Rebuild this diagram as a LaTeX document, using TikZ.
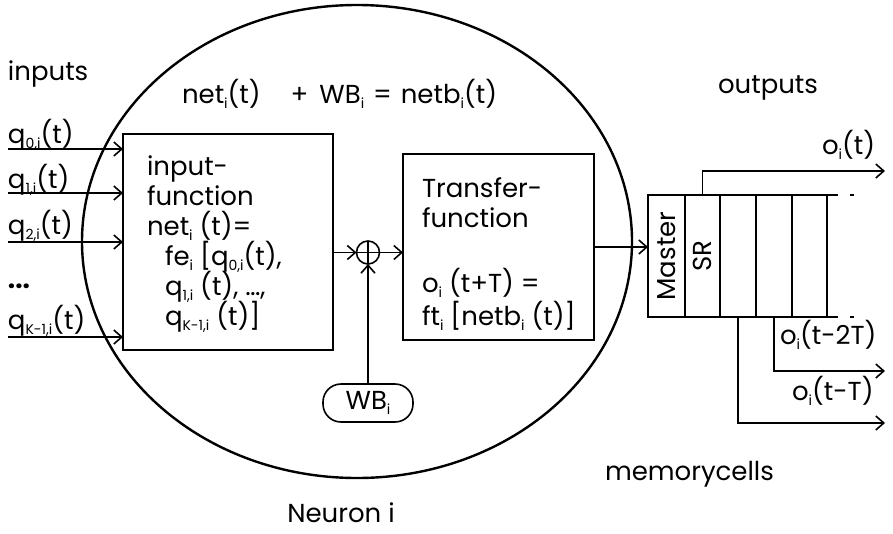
\documentclass[tikz,border=0pt]{standalone}
\usepackage{fontspec}
\setmainfont{Poppins}
\usetikzlibrary{arrows.meta,shapes.geometric}
\newcommand\lo[1]{\raisebox{-0.22em}{\fontsize{14pt}{14pt}\selectfont #1}}
\begin{document}
\begin{tikzpicture}[x=1pt,y=-1pt,
  every node/.style={font=\fontsize{26pt}{30pt}\selectfont, inner sep=0pt, outer sep=0pt},
  txt/.style={anchor=base west},
  box/.style={draw, line width=1.8pt, inner sep=0pt},
  cell/.style={draw, line width=1.6pt, minimum height=122pt},
  wire/.style={line width=1.6pt},
  arr/.style={line width=1.6pt, -{Straight Barb[length=8pt,width=14pt,line width=1.6pt]}}
]
\useasboundingbox (0,0) rectangle (893,533);

% neuron ellipse
\node[draw, ellipse, line width=2.4pt, minimum width=550pt, minimum height=473pt] (neuron) at (357,241.5) {};

% labels
\node[txt] (inputs) at (8,80) {inputs};
\node[txt] (outputs) at (718,93) {outputs};
\node[txt] (memcells) at (605,480) {memorycells};
\node[anchor=base] (neuroni) at (341,522) {Neuron i};
\node[txt] (formula) at (182,103) {net\lo{i}(t)\hspace{30pt}+\hspace{4pt} WB\lo{i} \hspace{2pt}=\hspace{2pt} netb\lo{i}(t)};

% input function box
\node[box, minimum width=210pt, minimum height=216pt] (inbox) at (228,242) {};
\node[txt] (i1) at (147,175) {input-};
\node[txt] (i2) at (147,205) {function};
\node[txt] (i3) at (147,235) {net\lo{i} (t)=};
\node[txt] (i4) at (165,265) {fe\lo{i} [q\lo{0,i}(t),};
\node[txt] (i5) at (165,295) {q\lo{1,i} (t), \dots,};
\node[txt] (i6) at (165,325) {q\lo{K-1,i} (t)]};

% inputs
\node[txt] (q0) at (8,143) {q\lo{0,i}(t)};
\node[txt] (q1) at (8,188) {q\lo{1,i}(t)};
\node[txt] (q2) at (8,234) {q\lo{2,i}(t)};
\node[txt] (qd) at (8,288) {\textbf{...}};
\node[txt] (qk) at (8,329) {q\lo{K-1,i}(t)};
\coordinate (in0) at (8,149);
\coordinate (in1) at (8,193);
\coordinate (in2) at (8,242);
\coordinate (ink) at (8,337);
\foreach \c in {in0,in1,in2,ink}
  \draw[arr] (\c) -- (\c -| inbox.west);

% summation
\node[draw, circle, line width=1.6pt, minimum size=23pt] (sum) at (368,252.5) {};
\draw[wire] (sum.north) -- (sum.south);
\draw[wire] (sum.west) -- (sum.east);
\draw[arr] (inbox.east |- sum) -- (sum.west);

% WB
\node[draw, line width=1.6pt, rounded corners=18pt, minimum width=90pt, minimum height=38pt] (wb) at (368,403) {WB\lo{i}};
\draw[arr] (wb.north) -- (sum.south);

% transfer function box
\node[box, minimum width=191pt, minimum height=186pt] (tbox) at (498.5,247) {};
\node[txt] (t1) at (422,197) {Transfer-};
\node[txt] (t2) at (422,227) {function};
\node[txt] (t3) at (422,292) {o\lo{i} (t+T) =};
\node[txt] (t4) at (422,325) {ft\lo{i} [netb\lo{i} (t)]};
\draw[arr] (sum.east) -- (sum -| tbox.west);

% master + shift register
\node[draw, line width=2.8pt, minimum width=37pt, minimum height=122pt] (master) at (666.5,256) {};
\node[rotate=90] (mastertxt) at (master.center) {Master};
\draw[arr] (tbox.east) -- (tbox.east -| master.west);
\node[cell, minimum width=35pt] (c1) at (702.5,256) {};
\node[cell, minimum width=36pt] (c2) at (738,256) {};
\node[cell, minimum width=36pt] (c3) at (774,256) {};
\node[cell, minimum width=35pt] (c4) at (809.5,256) {};
\node[rotate=90] (srtxt) at (c1.center) {SR};
\draw[line width=2.6pt] (c4.north east) -- ++(11,0);
\draw[line width=2.6pt] (c4.south east) -- ++(11,0);
\draw[wire] ([xshift=23pt]c4.north east) -- ++(4,0);
\draw[wire] ([xshift=23pt]c4.south east) -- ++(4,0);

% outputs
\coordinate (o0) at (885,171);
\coordinate (o2) at (885,371);
\coordinate (o1) at (885,423);
\draw[arr] (c1.north) |- (o0);
\draw[arr] (c3.south) |- (o2);
\draw[arr] (c2.south) |- (o1);
\node[txt] (lo0) at (822,154) {o\lo{i}(t)};
\node[txt] (lo2) at (780,344) {o\lo{i}(t-2T)};
\node[txt] (lo1) at (792,400) {o\lo{i}(t-T)};
\end{tikzpicture}
\end{document}
